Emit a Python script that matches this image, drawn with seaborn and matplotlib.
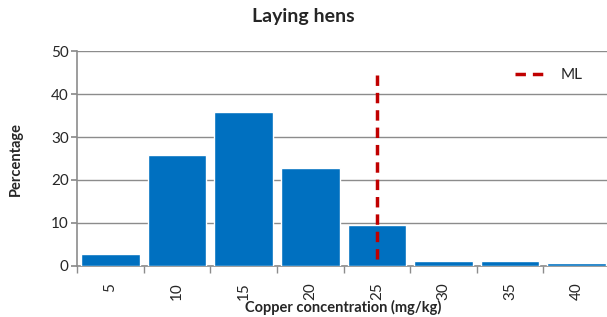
import numpy as np
import pandas as pd
import matplotlib
matplotlib.use("Agg")
import matplotlib.pyplot as plt
from matplotlib.ticker import FixedLocator
import seaborn as sns

# --- Data ---
categories = ["5", "10", "15", "20", "25", "30", "35", "40"]
percentages = [2.8, 25.7, 35.8, 22.8, 9.5, 1.2, 1.2, 0.6]
ml_category = "25"
ml_top = 44.5
y_ticks = [0, 10, 20, 30, 40, 50]

BAR_COLOR = "#0070C0"
ML_COLOR = "#C00000"
GRID_COLOR = "#8C8C8C"

sns.set_theme(style="white")
plt.rcParams["font.family"] = ["Lato", "DejaVu Sans"]

df = pd.DataFrame({"conc": categories, "pct": percentages})

fig = plt.figure(figsize=(6.07, 3.17), dpi=100)
ax = fig.add_axes([0.127, 0.161, 0.878, 0.678])

sns.barplot(data=df, x="conc", y="pct", color=BAR_COLOR, saturation=1,
            width=0.88, ax=ax, zorder=3)

# --- ML line at the 25 mg/kg category (drawn top-down so a dash starts at the top) ---
ml_x = categories.index(ml_category)
ax.plot([ml_x, ml_x], [ml_top, 0], color=ML_COLOR, linestyle=(0, (3, 2)),
        linewidth=2.5, zorder=4, label="ML", solid_capstyle="butt")

# --- Axes styling ---
ax.set_ylim(0, 50)
ax.set_xlim(-0.5, len(categories) - 0.5)
ax.set_yticks(y_ticks)
ax.yaxis.grid(True, color=GRID_COLOR, linewidth=1)
ax.set_axisbelow(True)

for side in ["top", "right"]:
    ax.spines[side].set_visible(False)
for side in ["left", "bottom"]:
    ax.spines[side].set_color(GRID_COLOR)
    ax.spines[side].set_linewidth(1.2)

ax.tick_params(axis="y", which="major", left=True, length=4, color=GRID_COLOR,
               labelsize=11, pad=2)
ax.tick_params(axis="x", which="major", bottom=False, labelsize=11,
               labelrotation=90, pad=6)
ax.xaxis.set_minor_locator(FixedLocator(np.arange(-0.5, len(categories), 1)))
ax.tick_params(axis="x", which="minor", bottom=True, length=5, color=GRID_COLOR)

ax.set_xlabel("Copper concentration (mg/kg)", fontsize=10.5, fontweight="bold",
              labelpad=0)
ax.set_ylabel("Percentage", fontsize=10.5, fontweight="bold", labelpad=20)
fig.suptitle("Laying hens", fontsize=14, fontweight="bold", y=0.975)

ax.legend(loc="upper right", frameon=False, fontsize=11,
          handlelength=2.2, bbox_to_anchor=(0.975, 0.985))

fig.savefig("out.png", dpi=100)
